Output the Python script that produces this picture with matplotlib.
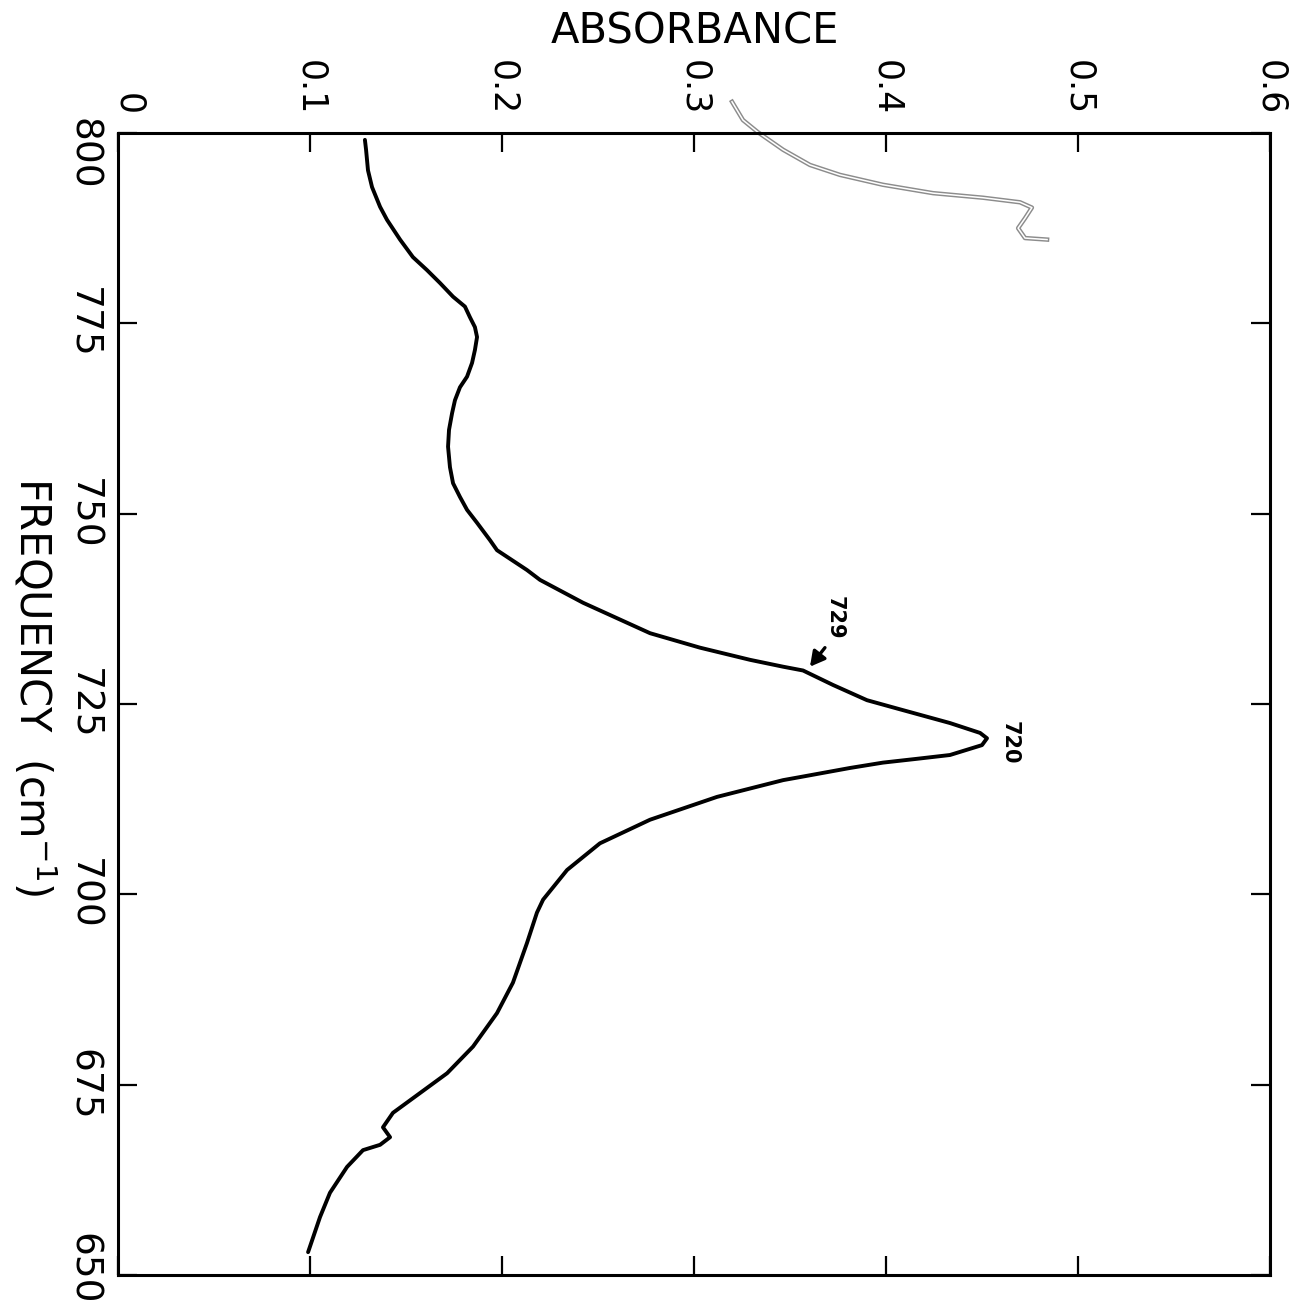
import matplotlib
matplotlib.use("Agg")
import matplotlib.pyplot as plt
from matplotlib.transforms import ScaledTranslation

# absorbance (x), with the matching frequency (cm-1)
absorbance = [0.1286, 0.1292, 0.1302, 0.1323, 0.1365, 0.1401, 0.1469, 0.1536,
              0.1609, 0.1677, 0.1745, 0.1807, 0.1833, 0.1859, 0.1870, 0.1859,
              0.1844, 0.1818, 0.1781, 0.1755, 0.1740, 0.1724, 0.1719, 0.1729,
              0.1745, 0.1781, 0.1818, 0.1870, 0.1938, 0.1974, 0.2130, 0.2198,
              0.2422, 0.2771, 0.3031, 0.3292, 0.3464, 0.3568, 0.3724, 0.3901,
              0.4073, 0.4333, 0.4490, 0.4526, 0.4500, 0.4333, 0.4161, 0.3984,
              0.3813, 0.3552, 0.3464, 0.3120, 0.2771, 0.2510, 0.2339, 0.2214,
              0.2182, 0.2130, 0.2057, 0.1974, 0.1849, 0.1714, 0.1573, 0.1432,
              0.1380, 0.1417, 0.1365, 0.1276, 0.1193, 0.1104, 0.1052, 0.0990]
frequency = [799.1, 797.8, 795.1, 792.9, 790.3, 788.6, 786.0, 783.7,
             782.0, 780.3, 778.5, 777.2, 775.8, 774.5, 773.2, 771.5,
             769.8, 768.0, 766.6, 764.9, 763.2, 761.0, 758.8, 756.1,
             754.0, 752.2, 750.5, 748.8, 746.5, 745.2, 742.6, 741.3,
             738.3, 734.3, 732.4, 730.8, 729.9, 729.4, 727.5, 725.5,
             724.3, 722.5, 721.2, 720.5, 719.6, 718.3, 717.8, 717.3,
             716.6, 715.4, 715.0, 712.8, 709.8, 706.7, 703.2, 699.3,
             697.6, 693.6, 688.4, 684.4, 680.0, 676.5, 673.9, 671.3,
             669.4, 668.1, 667.1, 666.4, 664.2, 660.8, 657.6, 653.0]

# stray fibre lying on the scanned page
fibre_abs = [0.3198, 0.3255, 0.3333, 0.3464, 0.3604, 0.3760, 0.3984, 0.4245,
             0.4505, 0.4698, 0.4760, 0.4724, 0.4688, 0.4724, 0.4839]
fibre_freq = [804.1, 801.7, 800.1, 797.8, 795.8, 794.5, 793.2, 792.1,
              791.5, 790.9, 790.2, 788.8, 787.5, 786.2, 786.0]

abs_ticks = [0, 0.1, 0.2, 0.3, 0.4, 0.5, 0.6]
abs_labels = ["0", "0.1", "0.2", "0.3", "0.4", "0.5", "0.6"]
freq_ticks = [800, 775, 750, 725, 700, 675, 650]
freq_labels = ["800", "775", "750", "725", "700", "675", "650"]

fig = plt.figure(figsize=(12.9, 13.1), dpi=100)
ax = fig.add_axes([118 / 1290, 1 - 1275 / 1310, 1152 / 1290, 1142 / 1310])

ax.plot(absorbance, frequency, color="black", lw=2.8,
        solid_capstyle="round", solid_joinstyle="round")
ax.plot(fibre_abs, fibre_freq, color="#8c8c8c", lw=3.2, clip_on=False,
        solid_joinstyle="round")
ax.plot(fibre_abs, fibre_freq, color="white", lw=1.1, clip_on=False,
        solid_joinstyle="round")

ax.set_xlim(0, 0.6)
ax.set_ylim(650, 800)

ax.set_xticks(abs_ticks)
ax.set_xticklabels(abs_labels, rotation=-90)
ax.set_yticks(freq_ticks)
ax.set_yticklabels(freq_labels, rotation=-90, va="center")

ax.tick_params(axis="x", direction="in", length=14, width=1.6, top=True, bottom=True,
               labeltop=True, labelbottom=False, labelsize=25, pad=13)
ax.tick_params(axis="y", direction="in", length=14, width=1.6, left=True, right=True,
               labelleft=True, labelright=False, labelsize=27, pad=12)
for s in ax.spines.values():
    s.set_linewidth(2.2)

# the hand lettering sits a little off the corner ticks
for lab in ax.get_yticklabels():
    if lab.get_text() == "800":
        lab.set_transform(lab.get_transform() + ScaledTranslation(0, -0.21, fig.dpi_scale_trans))
    if lab.get_text() == "650":
        lab.set_transform(lab.get_transform() + ScaledTranslation(0, 0.06, fig.dpi_scale_trans))
for lab in ax.get_xticklabels():
    if lab.get_text() == "0":
        lab.set_transform(lab.get_transform() + ScaledTranslation(0.10, 0, fig.dpi_scale_trans))

ax.annotate("", xy=(0.3604, 729.9), xytext=(0.3682, 732.4),
            arrowprops=dict(arrowstyle="-|>,head_length=0.55,head_width=0.3",
                            color="black", lw=2.4, shrinkA=0, shrinkB=0,
                            mutation_scale=16))
ax.text(0.3734, 736.3, "729", rotation=-90, fontsize=15, fontweight="bold",
        ha="center", va="center")
ax.text(0.4646, 719.9, "720", rotation=-90, fontsize=15, fontweight="bold",
        ha="center", va="center")

fig.text(695 / 1290, 1 - 32 / 1310, "ABSORBANCE", fontsize=30, ha="center", va="center")
fig.text(34 / 1290, 1 - 687 / 1310, "FREQUENCY  (cm$^{-1}$)", fontsize=30,
         rotation=-90, ha="center", va="center")

fig.savefig("out.png", dpi=100, facecolor="white")
